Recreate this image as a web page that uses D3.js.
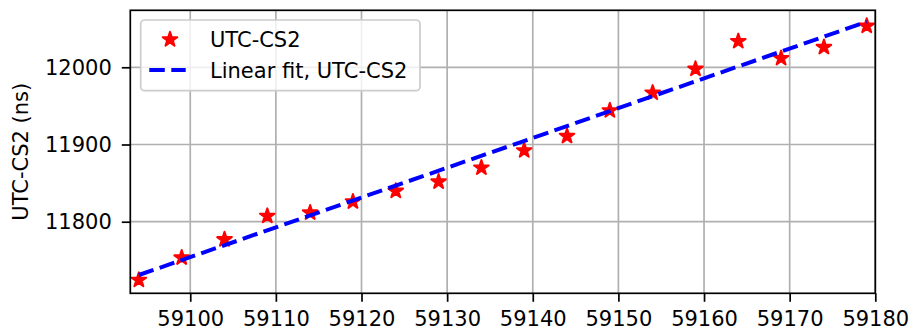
<html>
<head>
  <script src="https://d3js.org/d3.v7.min.js"></script>
  <style type="text/css">
  body { margin: 0; background: #fff; }
  text { font-family: "DejaVu Sans", sans-serif; }
  </style>
</head>
<body>
<div id="viz"></div>
<script type="text/javascript">

const WIDTH = 913, HEIGHT = 330;

// measurement days (MJD) and UTC-CS2 offsets in ns
const mjd = [59094, 59099, 59104, 59109, 59114, 59119, 59124, 59129, 59134,
             59139, 59144, 59149, 59154, 59159, 59164, 59169, 59174, 59179];
const offsets = [11724.5, 11753.4, 11777, 11807.4, 11811.7, 11826, 11839.8, 11851.8, 11869.9,
                 11892.2, 11910.8, 11944, 11967, 11997.8, 12033.7, 12011.7, 12026, 12053.5];

// linear fit end points
const fitX = [59094, 59179];
const fitY = [11731, 12059];

const xTicks = [59100, 59110, 59120, 59130, 59140, 59150, 59160, 59170, 59180];
const yTicks = [11800, 11900, 12000];

const seriesName = "UTC-CS2";
const fitName = "Linear fit, UTC-CS2";
const yLabel = "UTC-CS2 (ns)";

const margin = {left: 130.3, right: 913 - 875.3, top: 10.3, bottom: 330 - 293.3};

const svg = d3.select("#viz")
  .append("svg")
  .attr("width", WIDTH)
  .attr("height", HEIGHT);

const x = d3.scaleLinear()
  .domain([59093, 59180])
  .range([margin.left, WIDTH - margin.right]);

const y = d3.scaleLinear()
  .domain([11707.3, 12073.8])
  .range([HEIGHT - margin.bottom, margin.top]);

// grid
svg.selectAll(".vgrid")
  .data(xTicks)
  .enter().append("line")
  .attr("x1", d => x(d)).attr("x2", d => x(d))
  .attr("y1", margin.top).attr("y2", HEIGHT - margin.bottom)
  .style("stroke", "#b0b0b0")
  .style("stroke-width", 1.7);

svg.selectAll(".hgrid")
  .data(yTicks)
  .enter().append("line")
  .attr("y1", d => y(d)).attr("y2", d => y(d))
  .attr("x1", margin.left).attr("x2", WIDTH - margin.right)
  .style("stroke", "#b0b0b0")
  .style("stroke-width", 1.7);

// axes
const xAxis = svg.append("g")
  .attr("transform", `translate(0,${HEIGHT - margin.bottom})`)
  .call(d3.axisBottom(x).tickValues(xTicks).tickFormat(d3.format("d")).tickSize(8.5).tickPadding(9.5));

const yAxis = svg.append("g")
  .attr("transform", `translate(${margin.left},0)`)
  .call(d3.axisLeft(y).tickValues(yTicks).tickFormat(d3.format("d")).tickSize(8.5).tickPadding(10));

[xAxis, yAxis].forEach(a => {
  a.select(".domain").remove();
  a.selectAll(".tick line").style("stroke", "#000").style("stroke-width", 1.7);
  a.selectAll(".tick text")
    .style("font-size", "21px")
    .style("font-family", "'DejaVu Sans', sans-serif")
    .attr("fill", "#000");
});

// fit line
const line = d3.line()
  .x(d => x(d[0]))
  .y(d => y(d[1]));

const starSize = 66;

// points
svg.selectAll(".point")
  .data(mjd.map((d, i) => [d, offsets[i]]))
  .enter().append("path")
  .attr("class", "point")
  .attr("d", d3.symbol().type(d3.symbolStar).size(starSize))
  .attr("transform", d => `translate(${x(d[0])},${y(d[1])})`)
  .attr("fill", "#ff0000")
  .attr("stroke", "#ff0000")
  .attr("stroke-width", 2)
  .attr("stroke-linejoin", "round");

svg.append("path")
  .datum(fitX.map((d, i) => [d, fitY[i]]))
  .attr("d", line)
  .attr("fill", "none")
  .attr("stroke", "#0000ff")
  .attr("stroke-width", 4)
  .attr("stroke-dasharray", "15.5,6.5");

// frame
svg.append("rect")
  .attr("x", margin.left)
  .attr("y", margin.top)
  .attr("width", WIDTH - margin.right - margin.left)
  .attr("height", HEIGHT - margin.bottom - margin.top)
  .attr("fill", "none")
  .attr("stroke", "#000")
  .attr("stroke-width", 1.7);

// y label
svg.append("text")
  .attr("transform", `translate(28,151.7) rotate(-90)`)
  .attr("text-anchor", "middle")
  .style("font-size", "21px")
  .text(yLabel);

// legend
const legend = svg.append("g");
legend.append("rect")
  .attr("x", 140.7).attr("y", 20)
  .attr("width", 279.3).attr("height", 70.7)
  .attr("rx", 4)
  .attr("fill", "#fff").attr("fill-opacity", 0.8)
  .attr("stroke", "#cccccc").attr("stroke-width", 1.7);

legend.append("path")
  .attr("d", d3.symbol().type(d3.symbolStar).size(starSize))
  .attr("transform", "translate(170,39.5)")
  .attr("fill", "#ff0000")
  .attr("stroke", "#ff0000")
  .attr("stroke-width", 2)
  .attr("stroke-linejoin", "round");

legend.append("line")
  .attr("x1", 149.3).attr("x2", 185.7)
  .attr("y1", 70).attr("y2", 70)
  .attr("stroke", "#0000ff")
  .attr("stroke-width", 4)
  .attr("stroke-dasharray", "15.5,6.5");

legend.append("text")
  .attr("x", 210).attr("y", 39.5)
  .attr("dy", "0.36em")
  .style("font-size", "21px")
  .text(seriesName);

legend.append("text")
  .attr("x", 210).attr("y", 70)
  .attr("dy", "0.36em")
  .style("font-size", "21px")
  .text(fitName);

</script>
</body>
</html>
